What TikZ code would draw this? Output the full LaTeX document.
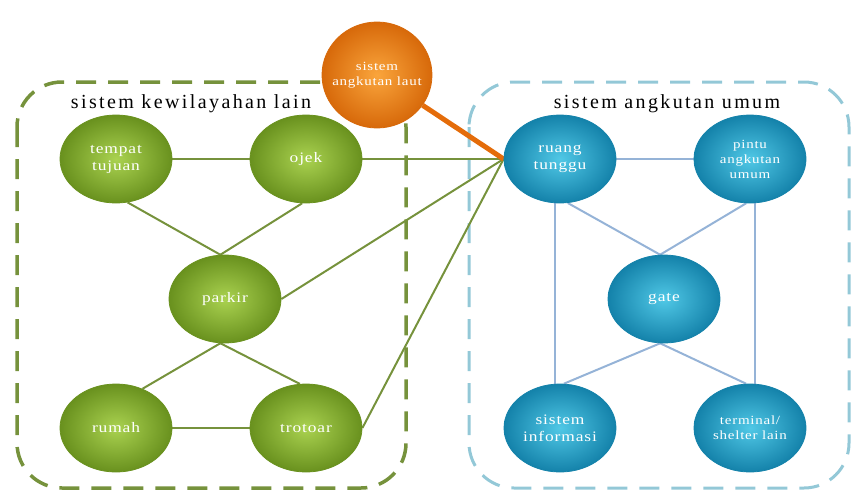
\documentclass[tikz,border=0pt]{standalone}
\usepackage{fontspec}
\setmainfont{Liberation Serif}
\newfontfamily\titlefont[LetterSpace=12]{Liberation Serif}
\newfontfamily\nodefnt[FakeStretch=1.2,LetterSpace=6]{Liberation Serif}
\usetikzlibrary{shapes.geometric,backgrounds}
\definecolor{glight}{RGB}{170,210,80}
\definecolor{gdark}{RGB}{105,145,30}
\definecolor{gline}{RGB}{118,146,60}
\definecolor{blight}{RGB}{80,200,230}
\definecolor{bdark}{RGB}{20,130,170}
\definecolor{bline}{RGB}{149,179,215}
\definecolor{bbox}{RGB}{147,200,215}
\definecolor{olight}{RGB}{250,165,60}
\definecolor{odark}{RGB}{215,105,10}
\definecolor{oline}{RGB}{228,108,10}
\tikzset{
  ballnode/.style={ellipse, minimum width=112pt, minimum height=88pt, inner sep=0pt,
    shading=radial, text=white, align=center, font=\nodefnt\fontsize{14.5}{17}\selectfont},
  smalltext/.style={font=\nodefnt\fontsize{12.5}{15}\selectfont},
  gnode/.style={ballnode, draw=gdark, line width=0.8pt, inner color=glight, outer color=gdark},
  bnode/.style={ballnode, draw=bdark, line width=0.8pt, inner color=blight, outer color=bdark},
  onode/.style={ballnode, minimum width=110pt, minimum height=106pt, inner xsep=-14pt, draw=odark, line width=0.8pt,
    inner color=olight, outer color=odark, smalltext},
  gedge/.style={draw=gline, line width=2pt},
  bedge/.style={draw=bline, line width=2pt},
  oedge/.style={draw=oline, line width=5pt},
  gbox/.style={draw=gline, line width=3.5pt, dash pattern=on 20pt off 12pt, rounded corners=45pt},
  bbox/.style={draw=bbox, line width=3pt, dash pattern=on 20pt off 12pt, rounded corners=45pt},
  title/.style={font=\titlefont\fontsize{20}{21}\selectfont, text=black}
}
\begin{document}
\begin{tikzpicture}[x=1pt,y=-1pt]
\useasboundingbox (0,0) rectangle (851,493);
\begin{scope}[on background layer]
  \draw[gbox] (17,82) rectangle (406,488);
  \draw[bbox] (469,82) rectangle (849,488);
\end{scope}
% green nodes
\node[gnode] (tempat) at (116,159) {tempat\\tujuan};
\node[gnode] (ojek) at (306,159) {ojek};
\node[gnode] (parkir) at (225,299) {parkir};
\node[gnode] (rumah) at (116,428) {rumah};
\node[gnode] (trotoar) at (306,428) {trotoar};
% orange node
\node[onode] (laut) at (377,75) {sistem\\angkutan laut};
% blue nodes
\node[bnode] (ruang) at (560,159) {ruang\\tunggu};
\node[bnode, smalltext] (pintu) at (750,159) {pintu\\angkutan\\umum};
\node[bnode] (gate) at (664,299) {gate};
\node[bnode] (info) at (560,428) {sistem\\informasi};
\node[bnode, smalltext] (term) at (750,428) {terminal/\\shelter lain};
% titles
\node[title] (t1) at (191,104) {sistem kewilayahan lain};
\node[title] (t2) at (667,104) {sistem angkutan umum};
% edges
\begin{scope}[on background layer]
  \draw[gedge] (tempat) -- (ojek);
  \draw[gedge] (tempat.-75) -- (parkir.96);
  \draw[gedge] (ojek.-95) -- (parkir.96);
  \draw[gedge] (parkir.-96) -- (rumah.56);
  \draw[gedge] (parkir.-96) -- (trotoar.98);
  \draw[gedge] (rumah) -- (trotoar);
  \draw[gedge] (ojek) -- (ruang.west);
  \draw[gedge] (parkir.east) -- (ruang.west);
  \draw[gedge] (trotoar.east) -- (ruang.west);
  \draw[oedge] (laut) -- (ruang.west);
  \draw[bedge] (ruang) -- (pintu);
  \draw[bedge] (ruang.-96) -- (info.96);
  \draw[bedge] (pintu.-84) -- (term.84);
  \draw[bedge] (ruang.-80) -- (gate.95);
  \draw[bedge] (pintu.-95) -- (gate.95);
  \draw[bedge] (gate.-95) -- (info.85);
  \draw[bedge] (gate.-95) -- (term.95);
\end{scope}
\end{tikzpicture}
\end{document}
